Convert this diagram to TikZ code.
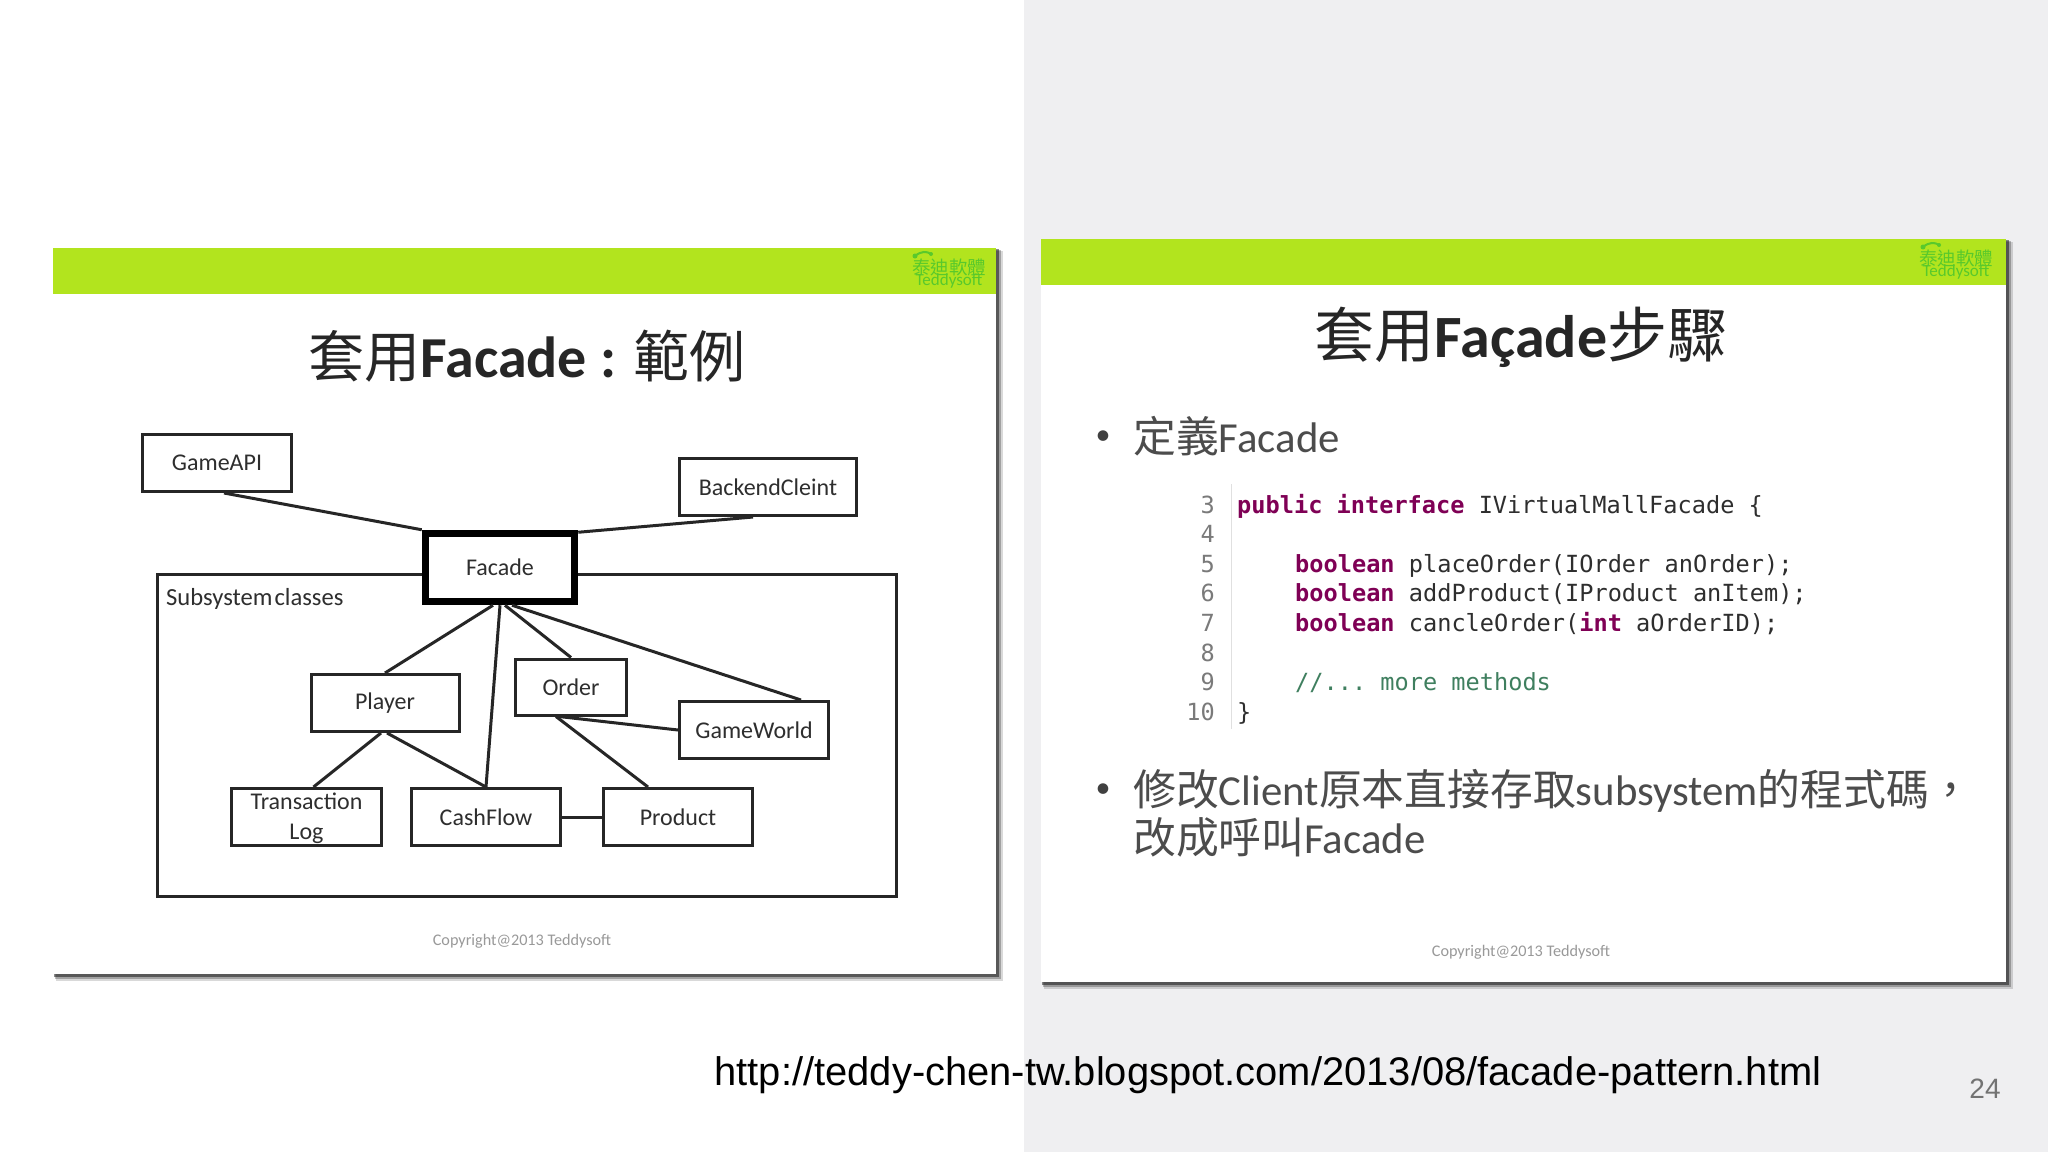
\documentclass[tikz,border=0pt]{standalone}
\usepackage{fontspec}
\setmainfont{Carlito}
\setmonofont{DejaVu Sans Mono}
\newfontfamily\cjk{Noto Sans CJK TC}
\newfontfamily\urlfont{Liberation Sans}
\definecolor{barg}{HTML}{B2E41E}
\definecolor{logog}{HTML}{58C92C}
\definecolor{pagebg}{HTML}{EFEFF1}
\definecolor{inkc}{HTML}{2E2E2E}
\definecolor{kwc}{HTML}{7F0055}
\definecolor{cmtc}{HTML}{3F7F5F}
\definecolor{numc}{HTML}{7A7A7A}
\newcommand{\kw}[1]{{\bfseries\color{kwc}#1}}
\tikzset{
  cls/.style={draw=black!85,line width=3pt,fill=white,inner sep=0pt,align=center,text=inkc,
    font=\fontsize{24}{30}\selectfont},
  link/.style={draw=black!85,line width=3pt},
  thick facade/.style={cls,line width=7.5pt,draw=black},
  title/.style={inner sep=0pt,text=black!85,font=\fontsize{58}{60}\selectfont},
  body/.style={anchor=base west,inner sep=0pt,text=black!70,font=\fontsize{42.8}{48}\selectfont},
  bullet/.style={inner sep=0pt,text=black!75,font=\fontsize{30}{36}\selectfont},
  code/.style={anchor=base west,inner sep=0pt,text=inkc,font=\ttfamily\fontsize{23.6}{28}\selectfont},
  lnum/.style={anchor=base east,inner sep=0pt,text=numc,font=\ttfamily\fontsize{23.6}{28}\selectfont},
  copy/.style={inner sep=0pt,text=black!40,font=\fontsize{16.2}{18}\selectfont},
  logo/.style={inner sep=0pt,text=logog,font=\cjk\fontsize{18.5}{20}\selectfont},
  logob/.style={inner sep=0pt,text=logog,font=\fontsize{17}{18}\selectfont},
  shad/.style={fill=black,opacity=#1,draw=none},
}
\newcommand{\slideback}[4]{%
  \fill[shad=0.15] (#1+3,#2+3) rectangle (#3+7,#4+7);
  \fill[shad=0.25] (#1+2,#2+2) rectangle (#3+5,#4+5);
  \fill[shad=0.45] (#1+1,#2+1) rectangle (#3+3,#4+3);
  \fill[white] (#1,#2) rectangle (#3,#4);
  \fill[barg] (#1,#2) rectangle (#3,#2+45.5);
}
\begin{document}
\begin{tikzpicture}[x=1pt,y=-1pt]
\useasboundingbox (0,0) rectangle (2048,1152);
\fill[white] (0,0) rectangle (1024,1152);
\fill[pagebg] (1024,0) rectangle (2048,1152);
% left slide
\slideback{53}{248}{996}{974}
\node[logo] (logoA) at (949,267) {泰迪軟體};
\node[logob] (logoB) at (949,281) {Teddysoft};
\fill[logog] (915,256) circle (2.5) (931,254) circle (2);
\draw[logog,line width=2pt] (915,256) .. controls (921,251) and (927,251) .. (931,254);
\node[title] (titleL) at (527,356) {{\cjk\fontsize{56}{60}\selectfont 套用}\textbf{Facade : }{\cjk\fontsize{56}{60}\selectfont 範例}};
\draw[draw=black!85,line width=3pt] (157,574.6) rectangle (896,896.5);
\node[anchor=west,inner sep=0pt,text=inkc,font=\fontsize{24.6}{30}\selectfont] (sub) at (166,599) {Subsystem\kern2pt classes};
\node[cls,minimum width=149,minimum height=57] (gameapi) at (217,463) {GameAPI};
\node[cls,minimum width=177.5,minimum height=57] (backend) at (768,487) {BackendCleint};
\node[thick facade,minimum width=149,minimum height=68] (facade) at (500,567.5) {Facade};
\node[cls,minimum width=148,minimum height=57] (player) at (385,703) {Player};
\node[cls,minimum width=111.5,minimum height=56] (order) at (571,687) {Order};
\node[cls,minimum width=149,minimum height=57] (gameworld) at (754,730) {GameWorld};
\node[cls,minimum width=150,minimum height=57] (tlog) at (306.5,817) {\raisebox{-1.3pt}[\height][\depth]{Transaction}\\\raisebox{-1.3pt}[\height][\depth]{Log}};
\node[cls,minimum width=149,minimum height=57] (cashflow) at (486,817) {CashFlow};
\node[cls,minimum width=149.5,minimum height=57] (product) at (678,817) {Product};
\draw[link] ([xshift=7]gameapi.south) -- (facade.north west);
\draw[link] ([xshift=-15]backend.south) -- ([yshift=-2.5]facade.north east);
\draw[link] ([xshift=-7]facade.south) -- (player.north);
\draw[link] (facade.south) -- (cashflow.north);
\draw[link] ([xshift=5]facade.south) -- (order.north);
\draw[link] ([xshift=12]facade.south) -- ([xshift=47]gameworld.north);
\draw[link] ([xshift=-4]player.south) -- ([xshift=7]tlog.north);
\draw[link] ([xshift=2]player.south) -- (cashflow.north);
\draw[link] ([xshift=-12]order.south) -- (gameworld.west);
\draw[link] ([xshift=-15]order.south) -- ([xshift=-30]product.north);
\draw[link] (cashflow.east) -- (product.west);
\node[copy] (copyL) at (522,941) {Copyright@2013 Teddysoft};
% right slide
\slideback{1041}{239}{2006}{982}
\node[logo] (logoC) at (1956,258) {泰迪軟體};
\node[logob] (logoD) at (1956,272) {Teddysoft};
\fill[logog] (1923,247) circle (2.5) (1939,245) circle (2);
\draw[logog,line width=2pt] (1923,247) .. controls (1929,242) and (1935,242) .. (1939,245);
\node[title,font=\fontsize{60}{62}\selectfont] (titleR) at (1521,337) {{\cjk 套用}\textbf{Façade}{\cjk 步驟}};
\node[bullet] (b1) at (1103,438) {•};
\node[body] (t1) at (1133,452) {{\cjk 定義}Facade};
\node[bullet] (b2) at (1103,791) {•};
\node[body] (t2) at (1133,805) {{\cjk 修改}Client{\cjk 原本直接存取}subsystem{\cjk 的程式碼，}};
\node[body] (t3) at (1133,853) {{\cjk 改成呼叫}Facade};
\coordinate (rt) at (1231.5,484);
\coordinate (rb) at (1231.5,729);
\draw[black!12,line width=1.5pt] (rt) -- (rb);
\foreach \n in {3,...,10} \node[lnum] (ln\n) at (1215,{513+29.6*(\n-3)}) {\n};
\node[code] (c3) at (1237,513) {\kw{public} \kw{interface} IVirtualMallFacade \{};
\node[code] (c5) at (1295,572.2) {\kw{boolean} placeOrder(IOrder anOrder);};
\node[code] (c6) at (1295,601.8) {\kw{boolean} addProduct(IProduct anItem);};
\node[code] (c7) at (1295,631.4) {\kw{boolean} cancleOrder(\kw{int} aOrderID);};
\node[code,text=cmtc] (c9) at (1295,690.6) {//... more methods};
\node[code] (c10) at (1237,720.2) {\}};
\node[copy] (copyR) at (1521,952) {Copyright@2013 Teddysoft};
% footer
\node[inner sep=0pt,text=black,font=\urlfont\fontsize{39.9}{46}\selectfont] (url) at (1268,1075) {http://teddy-chen-tw.blogspot.com/2013/08/facade-pattern.html};
\node[inner sep=0pt,text=black!55,font=\urlfont\fontsize{28}{32}\selectfont] (pg) at (1985,1089) {24};
\end{tikzpicture}
\end{document}
